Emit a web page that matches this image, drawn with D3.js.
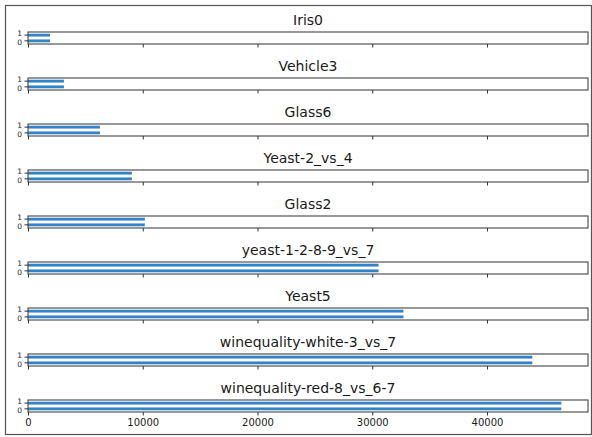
<!DOCTYPE html>
<html>
<head>
<meta charset="utf-8">
<script src="https://cdn.jsdelivr.net/npm/d3@7"></script>
<style>
  html, body { margin: 0; padding: 0; background: #fff; }
  svg { display: block; }
  text { font-family: "DejaVu Sans", sans-serif; fill: #1a1a1a; }
</style>
</head>
<body>
<svg id="chart" width="592" height="437"></svg>
<script>
// Dataset names, one small panel each
const datasets = ["Iris0", "Vehicle3", "Glass6", "Yeast-2_vs_4", "Glass2",
  "yeast-1-2-8-9_vs_7", "Yeast5", "winequality-white-3_vs_7", "winequality-red-8_vs_6-7"];
// Values for class 0 and class 1 in each panel
const class0 = [1920, 3130, 6270, 9050, 10180, 30550, 32720, 43950, 46480];
const class1 = [1920, 3130, 6270, 9050, 10180, 30550, 32720, 43950, 46480];
const classLabels = ["0", "1"];
const xTicks = [0, 10000, 20000, 30000, 40000];

const svg = d3.select("#chart");

// outer frame
svg.append("rect").attr("x", 5.5).attr("y", 5.5).attr("width", 586).attr("height", 429)
  .attr("fill", "none").attr("stroke", "#555").attr("stroke-width", 1.2);

const left = 28, right = 588, top0 = 32, step = 46, ph = 12;
const xmax = d3.max(class0.concat(class1)) * 1.05;
const x = d3.scaleLinear().domain([0, xmax]).range([left, right]);

datasets.forEach((name, i) => {
  const top = top0 + i * step;
  const g = svg.append("g");
  // categorical y: class 1 on top, class 0 below
  const y = d3.scaleBand().domain(["1", "0"]).range([top, top + ph]).paddingInner(0.5).paddingOuter(0.3);
  const vals = { "0": class0[i], "1": class1[i] };

  g.selectAll("rect.bar").data(classLabels).join("rect")
    .attr("class", "bar")
    .attr("x", x(0))
    .attr("y", d => y(d))
    .attr("width", d => x(vals[d]) - x(0))
    .attr("height", y.bandwidth())
    .attr("fill", "#3383c9");

  // panel box
  g.append("rect").attr("x", left).attr("y", top).attr("width", right - left).attr("height", ph)
    .attr("fill", "none").attr("stroke", "#444").attr("stroke-width", 1.1);

  // title
  g.append("text").attr("x", (left + right) / 2).attr("y", top - 7)
    .attr("text-anchor", "middle").attr("font-size", 14).text(name);

  // x axis ticks (labels only on the last panel)
  const isLast = i === datasets.length - 1;
  const xa = d3.axisBottom(x).tickValues(xTicks).tickSizeOuter(0).tickSize(3.5).tickPadding(3)
    .tickFormat(isLast ? d3.format("d") : () => "");
  const ax = g.append("g").attr("transform", `translate(0,${top + ph})`).call(xa);
  ax.select(".domain").remove();
  ax.selectAll("line").attr("stroke", "#333");
  ax.selectAll("text").attr("font-size", 10).attr("font-family", "DejaVu Sans").attr("fill", "#1a1a1a");

  // y ticks with class labels, spread a little so the two stay legible
  const ya = d3.axisLeft(y).tickSize(3.5).tickPadding(2.5);
  const ay = g.append("g").attr("transform", `translate(${left},0)`).call(ya);
  ay.select(".domain").remove();
  ay.selectAll("line").attr("stroke", "#333");
  ay.selectAll("text").attr("font-size", 7.5).attr("font-family", "DejaVu Sans").attr("fill", "#1a1a1a")
    .attr("dy", "0.34em")
    .attr("y", d => d === "1" ? -2 : 2);
});
</script>
</body>
</html>
